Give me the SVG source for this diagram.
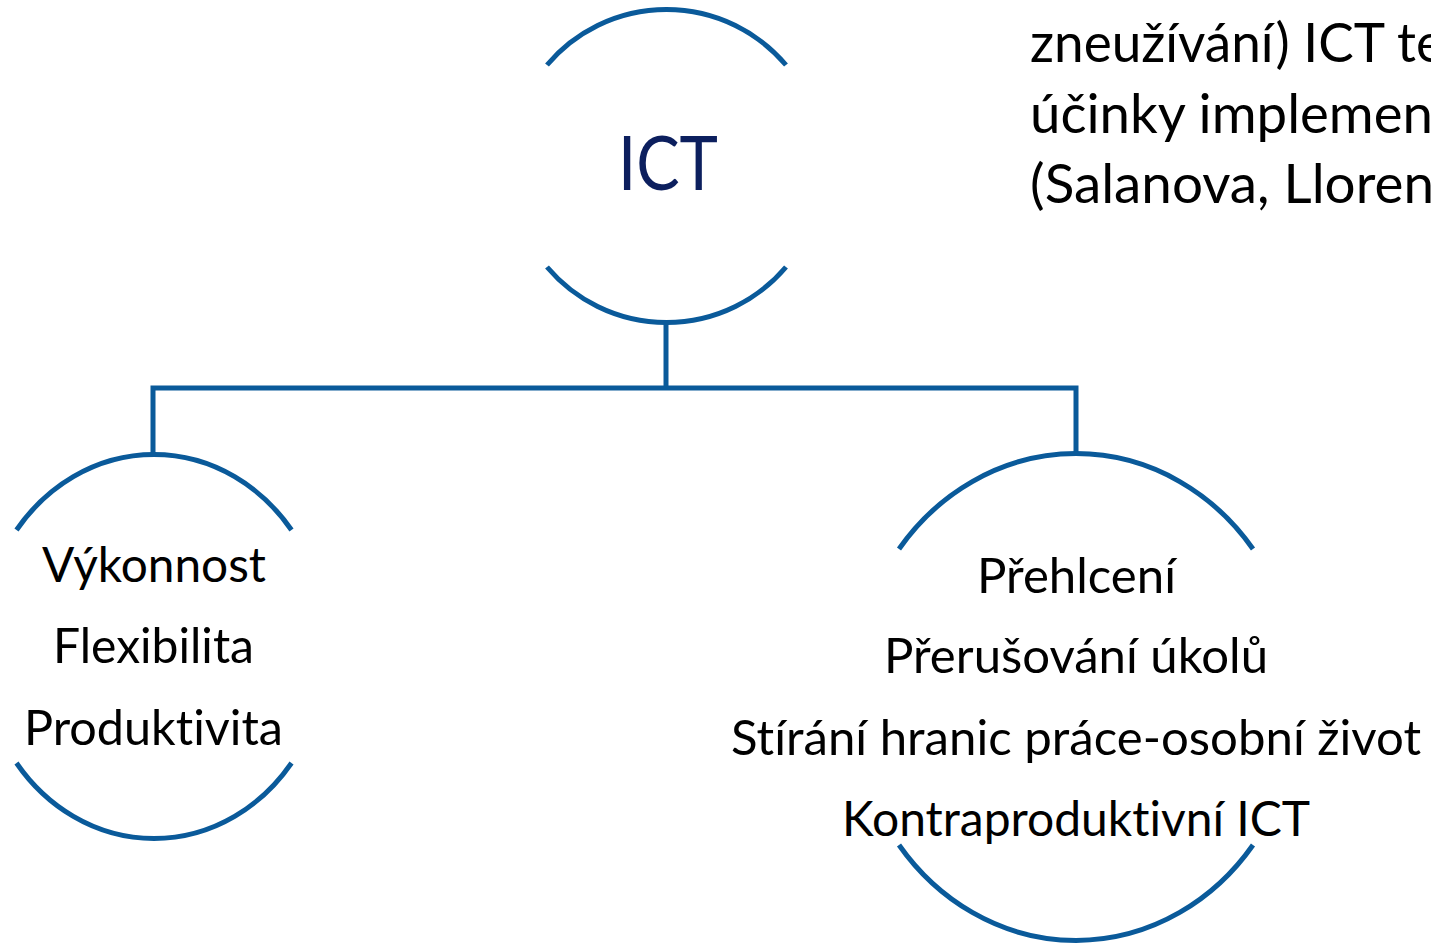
<svg xmlns="http://www.w3.org/2000/svg" width="1431" height="943" viewBox="0 0 1431 943">
<style>
.arc{fill:none;stroke:#0a5a9a;stroke-width:5}
.con{fill:none;stroke:#0a5a9a;stroke-width:5}
.t{font-family:Lato,"Open Sans","Liberation Sans",sans-serif;fill:#000;font-size:48px;font-variant-ligatures:none;font-feature-settings:"liga" 0}
.big{font-size:76px;fill:#0c1f5e}
.note{font-size:54px}
</style>
<rect width="1431" height="943" fill="#fff"/>
<g id="connectors">
<path class="con" d="M666,322 V388"/>
<path class="con" d="M153,455 V388 H1076 V454"/>
</g>
<g id="node-ict">
<path class="arc" d="M547,65 A156.5,156.5 0 0 1 786,65"/>
<path class="arc" d="M547,267 A156.5,156.5 0 0 0 786,267"/>
<text class="t big" x="618" y="190" textLength="100" lengthAdjust="spacingAndGlyphs">ICT</text>
</g>
<g id="node-positive">
<path class="arc" d="M16.5,530 A173,192 0 0 1 291.5,530"/>
<path class="arc" d="M16.5,763 A173,192 0 0 0 291.5,763"/>
<text class="t" x="42" y="582" textLength="224" lengthAdjust="spacingAndGlyphs">Výkonnost</text>
<text class="t" x="53" y="663" textLength="201" lengthAdjust="spacingAndGlyphs">Flexibilita</text>
<text class="t" x="24" y="745" textLength="259" lengthAdjust="spacingAndGlyphs">Produktivita</text>
</g>
<g id="node-negative">
<path class="arc" d="M899,549 A223,243.5 0 0 1 1253,549"/>
<path class="arc" d="M899,845 A223,243.5 0 0 0 1253,845"/>
<text class="t" x="977" y="593" textLength="199" lengthAdjust="spacingAndGlyphs">Přehlcení</text>
<text class="t" x="884" y="673" textLength="384" lengthAdjust="spacingAndGlyphs">Přerušování úkolů</text>
<text class="t" x="731" y="755" textLength="690" lengthAdjust="spacingAndGlyphs">Stírání hranic práce-osobní život</text>
<text class="t" x="842" y="836" textLength="468" lengthAdjust="spacingAndGlyphs">Kontraproduktivní ICT</text>
</g>
<g id="note">
<text class="t note" x="1030" y="62" textLength="414" lengthAdjust="spacingAndGlyphs">zneužívání) ICT te</text>
<text class="t note" x="1030" y="133" textLength="403" lengthAdjust="spacingAndGlyphs">účinky implemen</text>
<text class="t note" x="1030" y="203" textLength="404" lengthAdjust="spacingAndGlyphs">(Salanova, Lloren</text>
</g>
</svg>
